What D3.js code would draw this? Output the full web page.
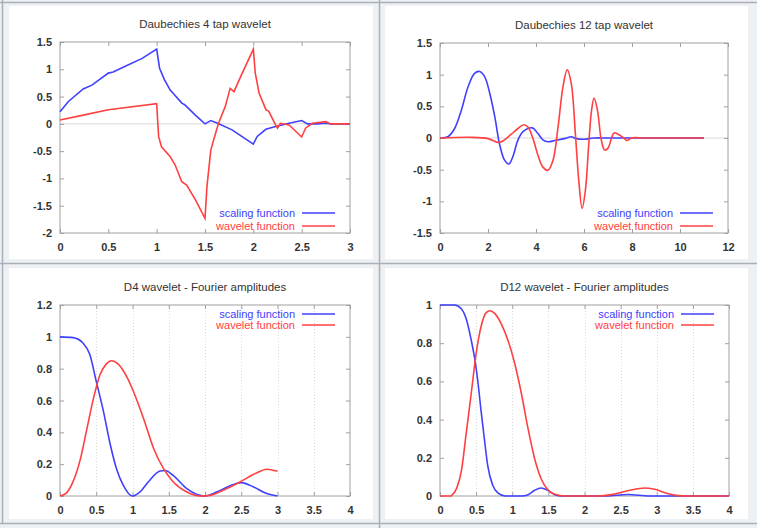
<!DOCTYPE html>
<html>
<head>
<meta charset="utf-8">
<script src="https://cdn.jsdelivr.net/npm/d3@7"></script>
<style>
  body { margin: 0; background: #fff; }
  text { font-family: "Liberation Sans", Arial, sans-serif; }
</style>
</head>
<body>
<svg id="vis"></svg>
<script>
// values, [x, y]
var d4Scaling = [[0,0.22],[0.087,0.41],[0.24,0.64],[0.33,0.71],[0.5,0.93],[0.55,0.95],[0.67,1.05],[0.85,1.2],[1.0,1.37],
  [1.03,1.02],[1.08,0.81],[1.14,0.62],[1.17,0.56],[1.26,0.38],[1.29,0.35],[1.4,0.16],[1.5,0.0],[1.56,0.06],[1.63,0.01],
  [1.78,-0.11],[2.0,-0.37],[2.04,-0.23],[2.13,-0.1],[2.23,-0.05],[2.37,0.01],[2.5,0.06],[2.56,0.0],[2.66,0.0],[2.75,0.01],[2.8,0.0],[3.0,0.0]];
var d4Wavelet = [[0,0.07],[0.24,0.16],[0.5,0.26],[1.0,0.37],[1.02,-0.23],[1.05,-0.42],[1.14,-0.6],[1.19,-0.75],[1.26,-1.06],
  [1.31,-1.12],[1.4,-1.39],[1.5,-1.73],[1.52,-1.15],[1.56,-0.48],[1.59,-0.29],[1.64,0.01],[1.71,0.32],[1.76,0.65],[1.8,0.59],
  [1.87,0.87],[2.0,1.37],[2.02,0.93],[2.06,0.56],[2.13,0.26],[2.16,0.23],[2.23,-0.02],[2.25,-0.08],[2.28,0.01],[2.37,-0.02],
  [2.5,-0.24],[2.54,-0.08],[2.61,0.01],[2.75,0.04],[2.8,0.0],[3.0,0.0]];

var d12Scaling = [[0,0],[0.33,0.02],[0.61,0.15],[0.89,0.44],[1.17,0.81],[1.44,1.02],[1.65,1.05],[1.86,0.97],[2.07,0.71],
  [2.28,0.34],[2.49,-0.11],[2.69,-0.35],[2.875,-0.41],[3.04,-0.29],[3.25,-0.03],[3.46,0.1],[3.85,0.16],[4.08,0.07],
  [4.29,-0.03],[4.5,-0.06],[4.78,-0.04],[5.19,-0.01],[5.47,0.02],[5.68,-0.01],[6.03,-0.02],[6.4,0.0],[7,0.0],[8,0.0],[9,0],[10,0],[11,0]];
var d12Wavelet = [[0,0],[1.31,0.01],[2.0,-0.01],[2.46,-0.07],[2.69,-0.03],[2.97,0.06],[3.25,0.15],[3.49,0.21],[3.67,0.17],
  [3.875,-0.01],[4.08,-0.27],[4.29,-0.46],[4.5,-0.51],[4.71,-0.35],[4.92,0.18],[5.125,0.81],[5.3,1.08],[5.47,0.86],
  [5.64,0.07],[5.78,-0.66],[5.92,-1.11],[6.06,-0.82],[6.19,-0.14],[6.31,0.42],[6.42,0.63],[6.56,0.44],[6.72,-0.03],
  [6.86,-0.19],[7.0,-0.16],[7.14,-0.01],[7.25,0.08],[7.42,0.06],[7.625,0.01],[7.79,-0.04],[7.97,0.0],[8.5,0],[9,0],[10,0],[11,0]];

var d4ScalingFourier = [[0,1],[0.18,0.995],[0.32,0.96],[0.41,0.89],[0.5,0.72],[0.6,0.53],[0.69,0.33],[0.78,0.17],[0.87,0.07],
  [1.0,0],[1.1,0.025],[1.22,0.09],[1.38,0.157],[1.45,0.16],[1.56,0.13],[1.75,0.046],[1.93,0.004],[2.0,0],[2.16,0.025],
  [2.34,0.063],[2.5,0.084],[2.67,0.057],[2.85,0.015],[3.0,0]];
var d4WaveletFourier = [[0,0],[0.09,0.02],[0.18,0.09],[0.28,0.23],[0.37,0.42],[0.46,0.61],[0.55,0.76],[0.64,0.83],[0.71,0.85],
  [0.8,0.83],[0.92,0.75],[1.01,0.66],[1.15,0.49],[1.29,0.3],[1.43,0.17],[1.56,0.09],[1.75,0.025],[1.93,0.0],[2.07,0.004],
  [2.25,0.036],[2.48,0.088],[2.71,0.145],[2.85,0.168],[3.0,0.155]];

var d12ScalingFourier = [[0,1],[0.2,1.0],[0.295,0.98],[0.36,0.93],[0.43,0.82],[0.48,0.72],[0.53,0.58],[0.57,0.44],[0.62,0.28],
  [0.66,0.16],[0.73,0.056],[0.8,0.016],[0.9,0],[1.13,0],[1.22,0.007],[1.31,0.03],[1.4,0.042],[1.49,0.03],[1.59,0.007],
  [1.68,0],[2.3,0],[2.6,0.008],[2.9,0],[4,0]];
var d12WaveletFourier = [[0,0],[0.15,0],[0.16,0.003],[0.23,0.04],[0.3,0.14],[0.36,0.32],[0.43,0.53],[0.5,0.745],[0.57,0.89],
  [0.64,0.96],[0.69,0.97],[0.76,0.955],[0.85,0.9],[0.94,0.815],[1.03,0.7],[1.13,0.53],[1.22,0.35],[1.31,0.195],[1.4,0.09],
  [1.49,0.033],[1.59,0.009],[1.73,0],[2.19,0],[2.37,0.007],[2.56,0.024],[2.74,0.038],[2.83,0.042],[2.97,0.035],[3.16,0.012],
  [3.29,0.002],[3.43,0],[4,0]];

// tick values
var d4TimeXTicks = [0, 0.5, 1, 1.5, 2, 2.5, 3];
var d4TimeYTicks = [-2, -1.5, -1, -0.5, 0, 0.5, 1, 1.5];
var d12TimeXTicks = [0, 2, 4, 6, 8, 10, 12];
var d12TimeYTicks = [-1.5, -1, -0.5, 0, 0.5, 1, 1.5];
var freqXTicks = [0, 0.5, 1, 1.5, 2, 2.5, 3, 3.5, 4];
var d4FreqYTicks = [0, 0.2, 0.4, 0.6, 0.8, 1, 1.2];
var d12FreqYTicks = [0, 0.2, 0.4, 0.6, 0.8, 1];

var titles = ["Daubechies 4 tap wavelet", "Daubechies 12 tap wavelet",
  "D4 wavelet - Fourier amplitudes", "D12 wavelet - Fourier amplitudes"];
var legendNames = ["scaling function", "wavelet function"];

var width = 757, height = 528;
var blue = "#4040ff", red = "#ff4040";

var svg = d3.select("#vis").attr("width", width).attr("height", height);

// frame of the page: light grey with white cells
svg.append("rect").attr("width", width).attr("height", height).attr("fill", "#eef1f4");
[[9, 6, 364, 253], [385, 6, 363, 253], [9, 268, 364, 251], [385, 268, 363, 251]].forEach(function(c) {
  svg.append("rect").attr("x", c[0]).attr("y", c[1]).attr("width", c[2]).attr("height", c[3]).attr("fill", "#fff");
});
var frameLines = [[2.5, 0, 2.5, 524], [379.5, 0, 379.5, 528], [0, 2.5, 757, 2.5], [0, 263.5, 757, 263.5], [0, 523.5, 757, 523.5]];
frameLines.forEach(function(l) {
  svg.append("line").attr("x1", l[0]).attr("y1", l[1]).attr("x2", l[2]).attr("y2", l[3])
    .attr("stroke", "#a9b0b8").attr("stroke-width", 1.5);
});

function fmt(d) { return String(Math.round(d * 10) / 10); }

function panel(opt) {
  var g = svg.append("g");
  var x = d3.scaleLinear().domain(opt.xDomain).range([opt.left, opt.right]);
  var y = d3.scaleLinear().domain(opt.yDomain).range([opt.bottom, opt.top]);

  // dotted vertical grid
  if (opt.grid) {
    g.selectAll(".grid").data(opt.xTicks.slice(1, -1)).enter().append("line")
      .attr("x1", function(d) { return Math.round(x(d)) + 0.5; })
      .attr("x2", function(d) { return Math.round(x(d)) + 0.5; })
      .attr("y1", opt.top).attr("y2", opt.bottom)
      .attr("stroke", "#dcdcdc").attr("stroke-dasharray", "1,2");
  }
  if (opt.zeroLine) {
    g.append("line").attr("x1", opt.left).attr("x2", opt.right)
      .attr("y1", y(0)).attr("y2", y(0)).attr("stroke", "#e6e6e6").attr("stroke-width", 1.5);
  }

  // axes, ticks mirrored inside like gnuplot
  var axB = g.append("g").attr("transform", "translate(0," + opt.bottom + ")")
    .call(d3.axisBottom(x).tickValues(opt.xTicks).tickSizeInner(-4).tickSizeOuter(0).tickPadding(10).tickFormat(fmt));
  var axL = g.append("g").attr("transform", "translate(" + opt.left + ",0)")
    .call(d3.axisLeft(y).tickValues(opt.yTicks).tickSizeInner(-4).tickSizeOuter(0).tickPadding(8).tickFormat(fmt));
  var axT = g.append("g").attr("transform", "translate(0," + opt.top + ")")
    .call(d3.axisTop(x).tickValues(opt.xTicks).tickSizeInner(-4).tickSizeOuter(0).tickFormat(""));
  var axR = g.append("g").attr("transform", "translate(" + opt.right + ",0)")
    .call(d3.axisRight(y).tickValues(opt.yTicks).tickSizeInner(-4).tickSizeOuter(0).tickFormat(""));
  [axB, axL, axT, axR].forEach(function(a) {
    a.select(".domain").remove();
    a.selectAll("line").attr("stroke", "#a0a0a0");
    a.selectAll("text").attr("fill", "#333").style("font-size", "11px").style("font-weight", "bold");
  });
  g.append("rect").attr("x", opt.left).attr("y", opt.top)
    .attr("width", opt.right - opt.left).attr("height", opt.bottom - opt.top)
    .attr("fill", "none").attr("stroke", "#a0a0a0");

  g.append("text").attr("x", (opt.left + opt.right) / 2).attr("y", opt.top - 14)
    .attr("text-anchor", "middle").attr("fill", "#333").style("font-size", "11.5px").text(opt.title);

  var line = d3.line().x(function(d) { return x(d[0]); }).y(function(d) { return y(d[1]); }).curve(opt.curve);
  g.append("path").datum(opt.scaling).attr("d", line).attr("fill", "none").attr("stroke", blue).attr("stroke-width", 1.6);
  g.append("path").datum(opt.wavelet).attr("d", line).attr("fill", "none").attr("stroke", red).attr("stroke-width", 1.6);

  // legend
  var rows = opt.legendBottom ? [opt.bottom - 20, opt.bottom - 7] : [opt.top + 9, opt.top + 20];
  [blue, red].forEach(function(c, i) {
    g.append("text").attr("x", opt.right - 55).attr("y", rows[i]).attr("dy", "0.35em")
      .attr("text-anchor", "end").attr("fill", c).style("font-size", "11px").text(legendNames[i]);
    g.append("line").attr("x1", opt.right - 48).attr("x2", opt.right - 15)
      .attr("y1", rows[i]).attr("y2", rows[i]).attr("stroke", c).attr("stroke-width", 1.6);
  });
}

panel({ left: 60, right: 350, top: 42, bottom: 233, xDomain: [0, 3], yDomain: [-2, 1.5],
  xTicks: d4TimeXTicks, yTicks: d4TimeYTicks, title: titles[0], zeroLine: true, legendBottom: true,
  curve: d3.curveLinear, scaling: d4Scaling, wavelet: d4Wavelet });
panel({ left: 440, right: 728, top: 43, bottom: 233, xDomain: [0, 12], yDomain: [-1.5, 1.5],
  xTicks: d12TimeXTicks, yTicks: d12TimeYTicks, title: titles[1], zeroLine: true, legendBottom: true,
  curve: d3.curveCatmullRom, scaling: d12Scaling, wavelet: d12Wavelet });
panel({ left: 60, right: 350, top: 305, bottom: 496, xDomain: [0, 4], yDomain: [0, 1.2],
  xTicks: freqXTicks, yTicks: d4FreqYTicks, title: titles[2], grid: true,
  curve: d3.curveMonotoneX, scaling: d4ScalingFourier, wavelet: d4WaveletFourier });
panel({ left: 440, right: 729, top: 305, bottom: 496, xDomain: [0, 4], yDomain: [0, 1],
  xTicks: freqXTicks, yTicks: d12FreqYTicks, title: titles[3], grid: true,
  curve: d3.curveMonotoneX, scaling: d12ScalingFourier, wavelet: d12WaveletFourier });
</script>
</body>
</html>
